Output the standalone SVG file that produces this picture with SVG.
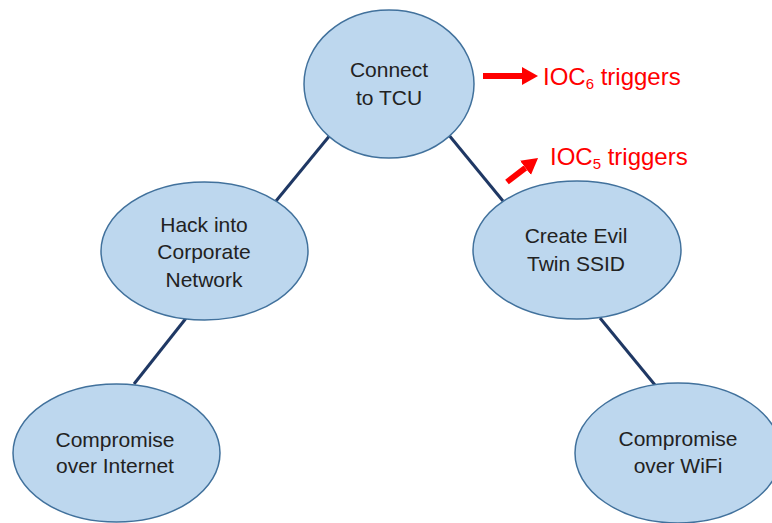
<svg xmlns="http://www.w3.org/2000/svg" width="772" height="523" viewBox="0 0 772 523">
  <defs>
    <style>
      .node ellipse { fill: #BDD7EE; stroke: #41719C; stroke-width: 1.5; }
      .node text { font-family: "Liberation Sans", Arial, sans-serif; font-size: 21px; fill: #222222; text-anchor: middle; }
      .edge { stroke: #1F3864; stroke-width: 3; fill: none; }
      .ioc { stroke: #FF0000; stroke-width: 6; fill: none; }
      .ioc-label { font-family: "Liberation Sans", Arial, sans-serif; font-size: 24px; fill: #FF0000; }
      .sub { font-size: 15px; }
    </style>
    <marker id="redHead" markerUnits="userSpaceOnUse" markerWidth="18" markerHeight="20" refX="0" refY="9" orient="auto" viewBox="0 0 18 18">
      <path d="M0,0 L16,9 L0,18 Z" fill="#FF0000"/>
    </marker>
  </defs>

  <!-- tree connectors -->
  <g id="connectors">
    <line class="edge" x1="331" y1="134" x2="276" y2="201"/>
    <line class="edge" x1="448" y1="134" x2="503" y2="201"/>
    <line class="edge" x1="187" y1="317" x2="134" y2="384"/>
    <line class="edge" x1="600" y1="318" x2="655" y2="385"/>
  </g>

  <g id="connect-tcu" class="node">
    <ellipse cx="389" cy="84" rx="85" ry="74"/>
    <text x="389" y="77">Connect</text>
    <text x="389" y="105">to TCU</text>
  </g>

  <g id="hack-corporate" class="node">
    <ellipse cx="204.5" cy="251" rx="103.5" ry="69"/>
    <text x="204" y="232">Hack into</text>
    <text x="204" y="259">Corporate</text>
    <text x="204" y="287">Network</text>
  </g>

  <g id="evil-twin" class="node">
    <ellipse cx="577" cy="250" rx="104" ry="69"/>
    <text x="576" y="243">Create Evil</text>
    <text x="576" y="271">Twin SSID</text>
  </g>

  <g id="compromise-internet" class="node">
    <ellipse cx="116.5" cy="453" rx="103.5" ry="69"/>
    <text x="115" y="447">Compromise</text>
    <text x="115" y="473">over Internet</text>
  </g>

  <g id="compromise-wifi" class="node">
    <ellipse cx="678" cy="453" rx="103" ry="70"/>
    <text x="678" y="446">Compromise</text>
    <text x="678" y="473">over WiFi</text>
  </g>

  <!-- indicator-of-compromise callouts -->
  <g id="ioc6">
    <line class="ioc" x1="483" y1="76" x2="522" y2="76" marker-end="url(#redHead)"/>
    <text class="ioc-label" x="543" y="85">IOC<tspan class="sub" dy="4">6</tspan><tspan dy="-4"> triggers</tspan></text>
  </g>
  <g id="ioc5">
    <line class="ioc" x1="507" y1="182" x2="525.4" y2="167.8" marker-end="url(#redHead)"/>
    <text class="ioc-label" x="550" y="165">IOC<tspan class="sub" dy="4">5</tspan><tspan dy="-4"> triggers</tspan></text>
  </g>
</svg>
